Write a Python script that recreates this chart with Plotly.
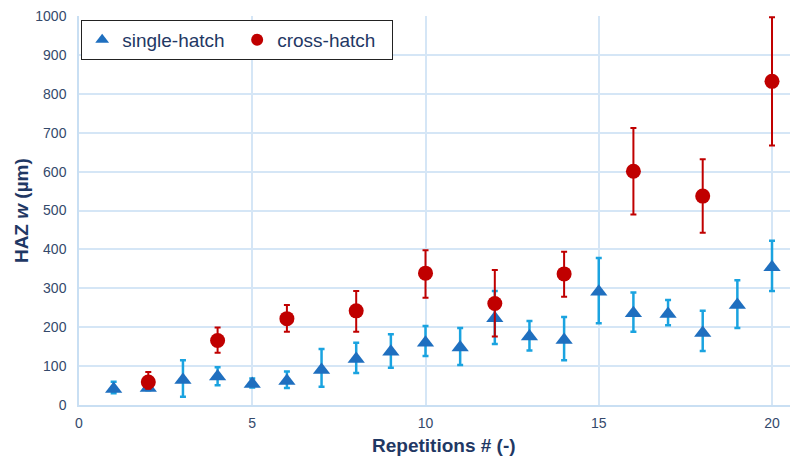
import plotly.graph_objects as go

single_x = list(range(1, 21))
single_y = [41, 44, 64, 73, 54, 62, 90, 118, 137, 160, 148, 223, 176, 167, 291, 236, 234, 185, 257, 354]
single_hi = [60, 50, 115, 97, 68, 86, 144, 160, 182, 203, 198, 293, 216, 226, 378, 289, 270, 242, 321, 422]
single_lo = [30, 38, 21, 51, 45, 44, 47, 82, 96, 126, 103, 157, 140, 115, 210, 188, 205, 139, 198, 293]

cross_x = [2, 4, 6, 8, 10, 12, 14, 16, 18, 20]
cross_y = [59, 166, 222, 242, 339, 261, 337, 601, 537, 832]
cross_hi = [85, 199, 257, 293, 398, 347, 394, 712, 632, 997]
cross_lo = [42, 134, 188, 188, 276, 176, 278, 490, 443, 667]

x_ticks = [0, 5, 10, 15, 20]
y_ticks = [0, 100, 200, 300, 400, 500, 600, 700, 800, 900, 1000]

fig = go.Figure()
fig.add_trace(go.Scatter(
    x=single_x, y=single_y, mode="markers", name="single-hatch",
    marker=dict(symbol="triangle-up", size=15, color="#1F6FBF"),
    error_y=dict(type="data", symmetric=False,
                 array=[h - v for h, v in zip(single_hi, single_y)],
                 arrayminus=[v - l for v, l in zip(single_y, single_lo)],
                 color="#1AA3E0", thickness=2.5, width=3),
))
fig.add_trace(go.Scatter(
    x=cross_x, y=cross_y, mode="markers", name="cross-hatch",
    marker=dict(symbol="circle", size=15, color="#C00000"),
    error_y=dict(type="data", symmetric=False,
                 array=[h - v for h, v in zip(cross_hi, cross_y)],
                 arrayminus=[v - l for v, l in zip(cross_y, cross_lo)],
                 color="#C00000", thickness=2, width=3),
))

font_family = "Arial, Liberation Sans, sans-serif"
tick_font = dict(family=font_family, size=14, color="#34496B")
title_font = dict(family=font_family, size=19, color="#1F3864")

fig.update_layout(
    width=790, height=449,
    margin=dict(l=71, r=0, t=8, b=52),
    paper_bgcolor="white", plot_bgcolor="white",
    showlegend=True,
    legend=dict(orientation="h", x=0.003, y=0.99, xanchor="left", yanchor="top",
                bordercolor="#222222", borderwidth=1, bgcolor="white",
                font=dict(family=font_family, size=19, color="#1F3864"),
                itemsizing="constant", entrywidth=110),
    xaxis=dict(range=[0, 20.75], tickvals=x_ticks, ticktext=[str(v) for v in x_ticks],
               showgrid=True, gridcolor="#D5E6F6", gridwidth=1.5,
               showline=True, linecolor="#C9DFF3", linewidth=1.5,
               zeroline=False, ticks="", tickfont=tick_font, automargin=False,
               ticklabelstandoff=4, ticklabeloverflow="allow"),
    yaxis=dict(range=[0, 1000], tickvals=y_ticks, ticktext=[str(v) for v in y_ticks],
               showgrid=True, gridcolor="#D5E6F6", gridwidth=1.5,
               showline=True, linecolor="#C9DFF3", linewidth=1.5,
               zeroline=False, ticks="", tickfont=tick_font, automargin=False,
               ticklabelstandoff=8, ticklabeloverflow="allow"),
    annotations=[
        dict(text="<b>Repetitions # (-)</b>", xref="paper", yref="paper",
             x=0.508, y=-0.103, xanchor="center", yanchor="middle",
             showarrow=False, font=title_font),
        dict(text="<b>HAZ <i>w</i> (µm)</b>", xref="paper", yref="paper",
             x=-0.0807, y=0.501, xanchor="center", yanchor="middle",
             textangle=-90, showarrow=False, font=title_font),
    ],
)

fig.write_html("out.html")
